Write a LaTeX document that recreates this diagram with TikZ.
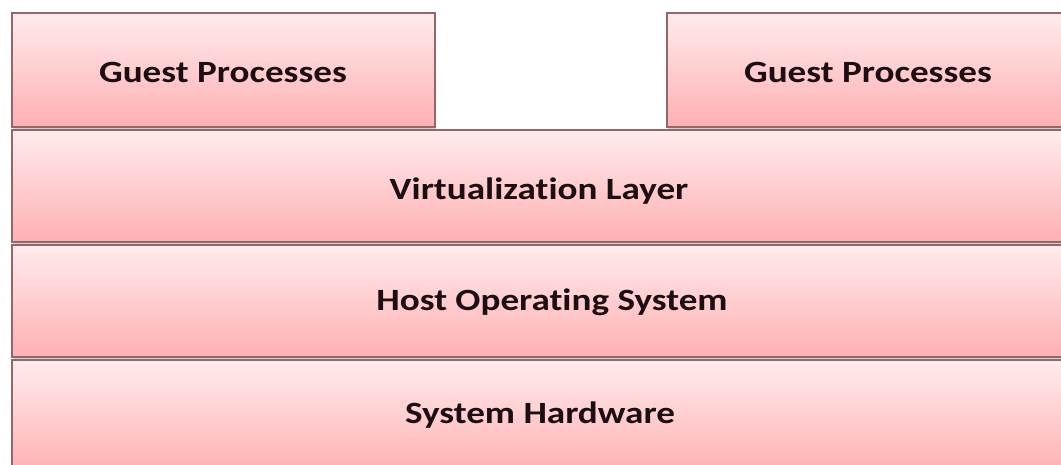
\documentclass[tikz,border=0pt]{standalone}
\usepackage{fontspec}
\setmainfont{Carlito}[FakeStretch=1.2, Ligatures=CommonOff]
\usepackage{xcolor}
\usepackage{tikz}
\usetikzlibrary{positioning, shadows}
\definecolor{lpink}{HTML}{FFEBEC}
\definecolor{dpink}{HTML}{FFB0B3}
\definecolor{lrim}{HTML}{93676A}
\definecolor{ink}{HTML}{1C0E12}

\tikzset{
  layer/.style={draw=lrim, line width=1.2pt, top color=lpink, bottom color=dpink,
    drop shadow={shadow xshift=1pt, shadow yshift=-1.5pt, opacity=0.35}},
  lbl/.style={font=\bfseries\fontsize{22}{26}\selectfont, text=ink}
}

\begin{document}
\begin{tikzpicture}[x=0.025cm, y=0.025cm]
\useasboundingbox (0,0) rectangle (1061,465);
\clip (0,0) rectangle (1061,465);
\fill[white] (0,0) rectangle (1061,465);
% stack, bottom up
\filldraw[layer] (12,-10) rectangle (1068,105);
\node[lbl] (hw) at (540,50) {System Hardware};
\filldraw[layer] (12,108) rectangle (1068,220);
\node[lbl] (host) at (552,163) {Host Operating System};
\filldraw[layer] (12,223) rectangle (1068,335);
\node[lbl] (virt) at (539,274) {Virtualization Layer};
% guests
\filldraw[layer] (12,338) rectangle (435,452);
\node[lbl] (gpl) at (223,393) {Guest Processes};
\filldraw[layer] (667,338) rectangle (1068,452);
\node[lbl] (gpr) at (868,393) {Guest Processes};
\end{tikzpicture}
\end{document}
